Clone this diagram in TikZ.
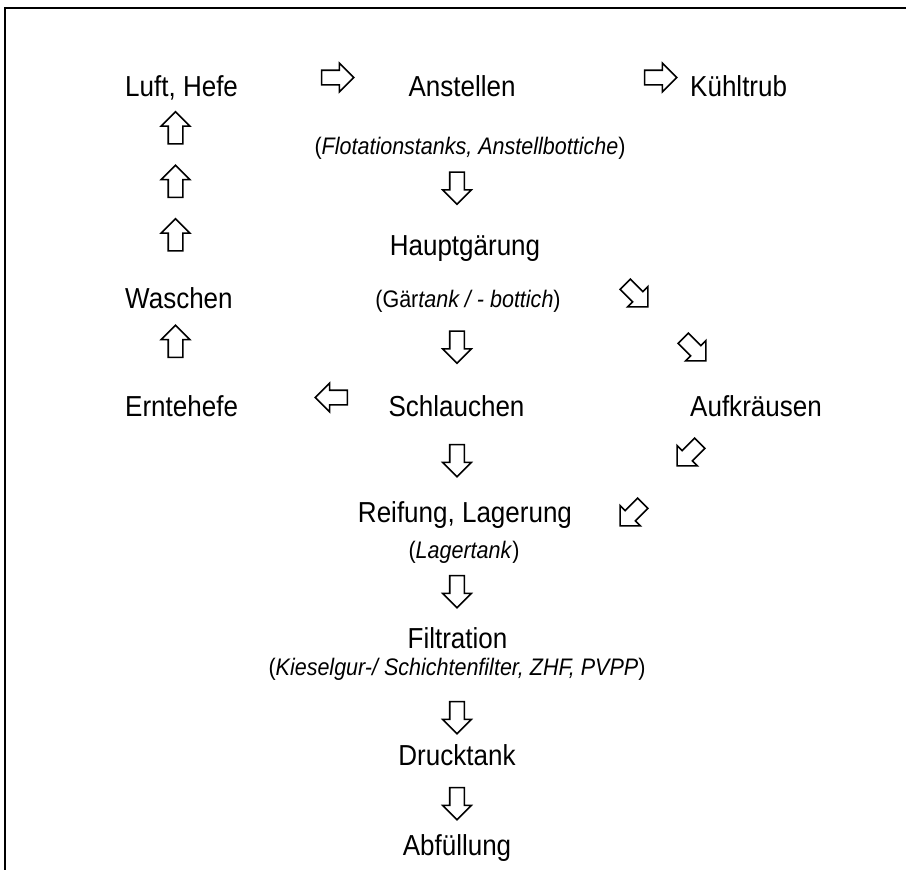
\documentclass[tikz,border=0pt]{standalone}
\usepackage{fontspec}
\setmainfont{Liberation Sans}[FakeStretch=0.9]
\usetikzlibrary{shapes.arrows}

\begin{document}
\begin{tikzpicture}[x=1pt,y=-1pt,
		lbl/.style={inner sep=0pt,anchor=base,font=\fontsize{28.9}{33}\selectfont},
		sub/.style={inner sep=0pt,anchor=base,font=\fontsize{23.9}{27}\selectfont},
		blk/.style={single arrow,draw,line width=1.6pt,inner xsep=0pt,inner ysep=6.5pt,
			minimum height=32pt,minimum width=28pt,single arrow head extend=7pt}]
			\useasboundingbox (0,0) rectangle (906,870);
			\draw[line width=2pt] (5,870) -- (5,8) -- (906,8);
			
			% obere Zeile
			\node[lbl,anchor=base west] (luft) at (125,96) {Luft, Hefe};
			\node[lbl] (anst) at (462,96) {Anstellen};
			\node[lbl,anchor=base west] (kuehl) at (690,96) {Kühltrub};
			\node[blk] (pr1) at (334,77.5) {};
			\node[blk] (pr2) at (657,77.5) {};
			\node[sub] (flot) at (470,154) {(\textit{Flotationstanks, Anstellbottiche})};
			
			% Hefe zurueck
			\node[lbl,anchor=base west] (wasch) at (125,308) {Waschen};
			\node[lbl,anchor=base west] (ernte) at (125,416) {Erntehefe};
			\node[blk,rotate=90] (pu1) at (175.5,131.5) {};
			\node[blk,rotate=90] (pu2) at (175.5,185) {};
			\node[blk,rotate=90] (pu3) at (175.5,238.5) {};
			\node[blk,rotate=90] (pu4) at (175.5,345) {};
			\node[blk,rotate=180] (pl1) at (335,397.5) {};
			
			% Gaerung
			\node[blk,rotate=-90] (pd1) at (457,184.5) {};
			\node[lbl] (haupt) at (465,255) {Hauptgärung};
			\node[sub] (gaer) at (468,307) {(Gär\textit{tank / - bottich})};
			\node[blk,rotate=-90] (pd2) at (457,343.5) {};
			\node[lbl] (schl) at (456.5,416) {Schlauchen};
			\node[blk,rotate=-90] (pd3) at (457,457) {};
			
			% Aufkraeusen
			\node[blk,rotate=-45] (pk1) at (634,293) {};
			\node[blk,rotate=-45] (pk2) at (692,347) {};
			\node[lbl,anchor=base west] (aufk) at (690,416) {Aufkräusen};
			\node[blk,rotate=-135] (pk3) at (691,452) {};
			\node[blk,rotate=-135] (pk4) at (634,512) {};
			
			% Lagerung bis Abfuellung
			\node[lbl] (reif) at (465,522) {Reifung, Lagerung};
			\node[sub] (lager) at (464,558) {(\textit{Lagertank})};
			\node[blk,rotate=-90] (pd4) at (457,588) {};
			\node[lbl] (filt) at (457.5,648) {Filtration};
			\node[sub] (kies) at (457,675) {(\textit{Kieselgur-/ Schichtenfilter, ZHF, PVPP})};
			\node[blk,rotate=-90] (pd5) at (457,714) {};
			\node[lbl] (druck) at (457,765) {Drucktank};
			\node[blk,rotate=-90] (pd6) at (457,800) {};
			\node[lbl] (abf) at (457,855) {Abfüllung};
		\end{tikzpicture}
\end{document}
